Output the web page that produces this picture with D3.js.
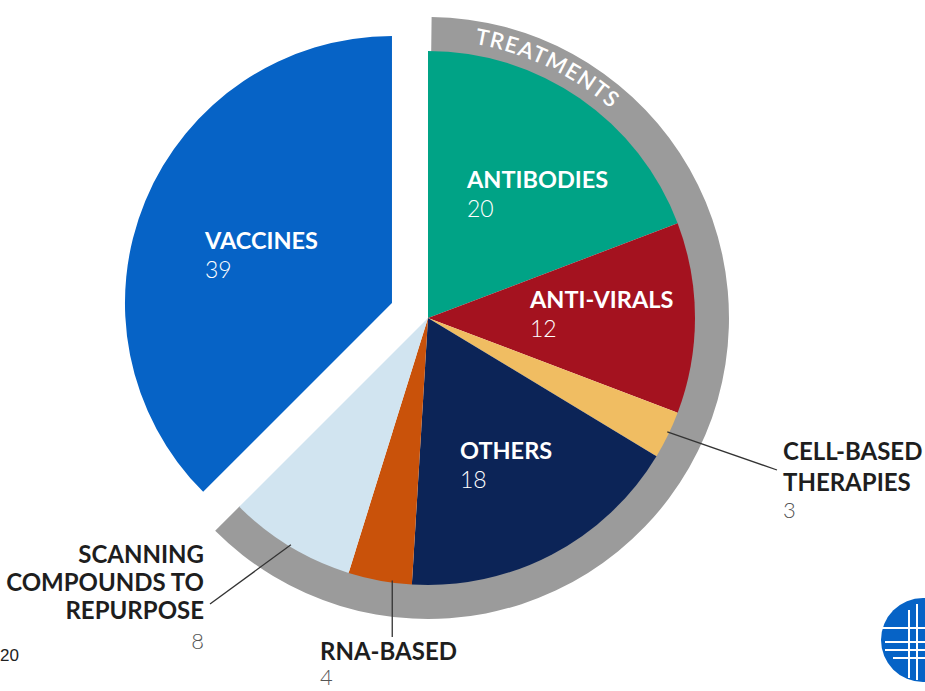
<!DOCTYPE html>
<html>
<head>
<meta charset="utf-8">
<script src="https://cdn.jsdelivr.net/npm/d3@7"></script>
<style>
  html, body { margin: 0; padding: 0; background: #ffffff; }
  svg { display: block; }
</style>
</head>
<body>
<svg id="chart" width="925" height="691"></svg>
<script>
// ---- data ----
const categories = ["ANTIBODIES", "ANTI-VIRALS", "CELL-BASED THERAPIES", "OTHERS", "RNA-BASED", "SCANNING COMPOUNDS TO REPURPOSE", "VACCINES"];
const values = [20, 12, 3, 18, 4, 8, 39];
const colors = ["#00A386", "#A4121F", "#F0BD62", "#0C2457", "#C9520A", "#D1E4F0", "#0663C6"];
const treatmentGroup = ["ANTIBODIES", "ANTI-VIRALS", "CELL-BASED THERAPIES", "OTHERS", "RNA-BASED", "SCANNING COMPOUNDS TO REPURPOSE"];
const groupLabel = "TREATMENTS";
const footnote = "20";

// ---- layout ----
const svg = d3.select("#chart");
const cx = 428, cy = 318;
const R = 267, ringOuter = 301;
const explode = 39;

const data = categories.map((c, i) => ({ name: c, value: values[i], color: colors[i] }));
const pie = d3.pie().sort(null).value(d => d.value).startAngle(0).endAngle(2 * Math.PI);
const arcs = pie(data);
const arc = d3.arc().innerRadius(0).outerRadius(R);

const g = svg.append("g").attr("transform", `translate(${cx},${cy})`);

// ring around treatments
const tArcs = arcs.filter(a => treatmentGroup.includes(a.data.name));
const ringStart = d3.min(tArcs, a => a.startAngle);
const ringEnd = d3.max(tArcs, a => a.endAngle);
const ringArc = d3.arc().innerRadius(R - 1).outerRadius(ringOuter).startAngle(ringStart + 0.012).endAngle(ringEnd);
g.append("path").attr("d", ringArc()).attr("fill", "#9B9B9B");

// slices
g.selectAll("path.slice").data(arcs).join("path")
  .attr("class", "slice")
  .attr("d", arc)
  .attr("fill", d => d.data.color)
  .attr("transform", d => {
    if (d.data.name !== "VACCINES") return null;
    const m = (d.startAngle + d.endAngle) / 2;
    return `translate(${explode * Math.sin(m)},${-explode * Math.cos(m)})`;
  });

// TREATMENTS text along ring
const textR = 278;
const tp = d3.path();
tp.arc(0, 0, textR, -Math.PI / 2, 0);
g.append("path").attr("id", "ringTextPath").attr("d", tp.toString()).attr("fill", "none");
g.append("text")
  .attr("font-family", "Lato, 'Open Sans', sans-serif")
  .attr("font-size", 22)
  .attr("font-weight", 600)
  .attr("letter-spacing", 1.2)
  .attr("fill", "#ffffff")
  .append("textPath")
  .attr("href", "#ringTextPath")
  .attr("startOffset", (25.5 / 90 * 100) + "%")
  .attr("text-anchor", "middle")
  .text(groupLabel);

// inside labels
const inside = [
  { name: "VACCINES", x: 205, y: 249 },
  { name: "ANTIBODIES", x: 467, y: 188 },
  { name: "ANTI-VIRALS", x: 530, y: 308 },
  { name: "OTHERS", x: 460, y: 459 }
];
inside.forEach(l => {
  const d = data.find(e => e.name === l.name);
  svg.append("text").attr("x", l.x).attr("y", l.y)
    .attr("font-family", "Lato, sans-serif").attr("font-weight", 700)
    .attr("font-size", 23.5).attr("fill", "#ffffff").text(l.name);
  svg.append("text").attr("x", l.x).attr("y", l.y + 29)
    .attr("font-family", "Lato, sans-serif").attr("font-weight", 300)
    .attr("font-size", 23).attr("fill", "#ffffff").text(d.value);
});

// outside labels with leader lines
function pt(name, frac, rad) {
  const a = arcs.find(e => e.data.name === name);
  const ang = a.startAngle + (a.endAngle - a.startAngle) * frac;
  return [cx + rad * Math.sin(ang), cy - rad * Math.cos(ang)];
}
const outside = [
  { name: "CELL-BASED THERAPIES", lines: ["CELL-BASED", "THERAPIES"], x: 783, y: 460, anchor: "start", lineEnd: [777, 470], frac: 0.45, lh: 31, numDy: 27, fs: 24 },
  { name: "SCANNING COMPOUNDS TO REPURPOSE", lines: ["SCANNING", "COMPOUNDS TO", "REPURPOSE"], x: 204, y: 563, anchor: "end", lineEnd: [210, 604], frac: 0.5, lh: 28, numDy: 30, fs: 24 },
  { name: "RNA-BASED", lines: ["RNA-BASED"], x: 320, y: 660, anchor: "start", lineEnd: null, frac: 0.31, lh: 31, numDy: 25, fs: 24 }
];
outside.forEach(l => {
  const d = data.find(e => e.name === l.name);
  const p = pt(l.name, l.frac, R - 2);
  const end = l.lineEnd || [p[0], 637];
  svg.append("line").attr("x1", p[0]).attr("y1", p[1]).attr("x2", end[0]).attr("y2", end[1])
    .attr("stroke", "#333333").attr("stroke-width", 1.3);
  l.lines.forEach((t, i) => {
    svg.append("text").attr("x", l.x).attr("y", l.y + i * l.lh)
      .attr("text-anchor", l.anchor)
      .attr("font-family", "Lato, sans-serif").attr("font-weight", 700)
      .attr("font-size", l.fs).attr("fill", "#1e1e1e").text(t);
  });
  svg.append("text").attr("x", l.x).attr("y", l.y + (l.lines.length - 1) * l.lh + l.numDy)
    .attr("text-anchor", l.anchor)
    .attr("font-family", "Lato, sans-serif").attr("font-weight", 300)
    .attr("font-size", 22).attr("fill", "#555555").text(d.value);
});

// footnote
svg.append("text").attr("x", 0).attr("y", 661)
  .attr("font-family", "Liberation Sans, Arial, sans-serif")
  .attr("font-size", 17).attr("fill", "#222").text(footnote);

// logo
const logo = svg.append("g").attr("transform", "translate(923,640)");
logo.append("circle").attr("r", 42).attr("fill", "#0663C6");
const lw = [[-42, -12, 20, -12], [-38, 2, 20, 2], [-38, 10, 20, 10], [-30, 18, 20, 18]];
lw.forEach(s => logo.append("line").attr("x1", s[0]).attr("y1", s[1]).attr("x2", s[2]).attr("y2", s[3])
  .attr("stroke", "#ffffff").attr("stroke-width", 2));
[[-14, -30, -14, 38], [-6, -36, -6, 40], [4, -40, 4, 40]].forEach(s => logo.append("line")
  .attr("x1", s[0]).attr("y1", s[1]).attr("x2", s[2]).attr("y2", s[3])
  .attr("stroke", "#ffffff").attr("stroke-width", 2));
</script>
</body>
</html>
